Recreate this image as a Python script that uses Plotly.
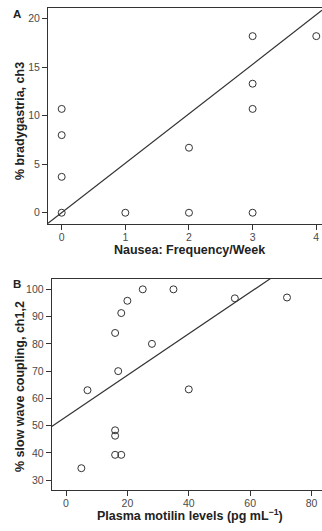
import plotly.graph_objects as go

# Panel A data
nausea_freq = [0, 0, 0, 0, 1, 2, 2, 3, 3, 3, 3, 4]
bradygastria = [0, 3.7, 8, 10.7, 0, 0, 6.7, 0, 10.7, 13.3, 18.2, 18.2]
fit_A = [0.0, 5.1]  # intercept, slope

# Panel B data
motilin = [5, 7, 16, 17, 18, 20, 25, 28, 35, 40, 55, 72, 16, 16, 16, 18]
coupling = [34.4, 63, 84, 70, 91.3, 95.8, 100, 80, 100, 63.3, 96.7, 97, 48.3, 46.3, 39.3, 39.3]
fit_B = [53.2, 0.762]

xrA = [-0.215, 4.09]
yrA = [-1.16, 21.1]
xrB = [-4.66, 83.4]
yrB = [26.4, 103.9]

W, H = 322, 531
ink = "#333333"
tickc = "#4a4a4a"
font_fam = "Liberation Sans, Arial, sans-serif"

fig = go.Figure()
marker = dict(symbol="circle-open", size=7, color=ink, line=dict(width=1, color=ink))

fig.add_trace(go.Scatter(x=nausea_freq, y=bradygastria, mode="markers", marker=marker,
                         xaxis="x", yaxis="y", showlegend=False, cliponaxis=False))
fig.add_trace(go.Scatter(x=xrA, y=[fit_A[0] + fit_A[1] * v for v in xrA], mode="lines",
                         line=dict(color=ink, width=1.2), xaxis="x", yaxis="y", showlegend=False))
fig.add_trace(go.Scatter(x=motilin, y=coupling, mode="markers", marker=marker,
                         xaxis="x2", yaxis="y2", showlegend=False, cliponaxis=False))
fig.add_trace(go.Scatter(x=xrB, y=[fit_B[0] + fit_B[1] * v for v in xrB], mode="lines",
                         line=dict(color=ink, width=1.2), xaxis="x2", yaxis="y2", showlegend=False))

ax_common = dict(showgrid=False, zeroline=False, showline=True, linecolor=ink, linewidth=1,
                 ticks="outside", ticklen=5, tickcolor=ink, tickwidth=1,
                 ticklabeloverflow="allow",
                 tickfont=dict(family=font_fam, size=10.5, color=tickc))

fig.update_layout(
    width=W, height=H,
    margin=dict(l=0, r=0, t=0, b=0),
    paper_bgcolor="white", plot_bgcolor="white",
    xaxis=dict(domain=[48 / W, 1], range=xrA, tickvals=[0, 1, 2, 3, 4], anchor="y",
               mirror=True, ticklabelstandoff=-2, **ax_common),
    yaxis=dict(domain=[1 - 224 / H, 1 - 8 / H], range=yrA, tickvals=[0, 5, 10, 15, 20], anchor="x",
               **ax_common),
    xaxis2=dict(domain=[51.7 / W, 1], range=xrB, tickvals=[0, 20, 40, 60, 80], anchor="y2",
                mirror=True, ticklabelstandoff=-2, **ax_common),
    yaxis2=dict(domain=[1 - 490 / H, 1 - 278.7 / H], range=yrB,
                tickvals=[30, 40, 50, 60, 70, 80, 90, 100], anchor="x2", **ax_common),
)

title_font = dict(family=font_fam, size=12.5, color="#222222")
ann = [
    dict(text="<b>A</b>", x=17 / W, y=1 - 13.5 / H, font=dict(family=font_fam, size=11.5, color="#222222")),
    dict(text="<b>B</b>", x=17 / W, y=1 - 283.5 / H, font=dict(family=font_fam, size=11.5, color="#222222")),
    dict(text="<b>Nausea: Frequency/Week</b>", x=189 / W, y=1 - 249.5 / H, font=title_font),
    dict(text="<b>% bradygastria, ch3</b>", x=20 / W, y=1 - 121 / H, textangle=-90, font=title_font),
    dict(text="<b>Plasma motilin levels (pg mL<sup>−1</sup>)</b>", x=190 / W, y=1 - 514.5 / H, font=title_font),
    dict(text="<b>% slow wave coupling, ch1,2</b>", x=20 / W, y=1 - 387 / H, textangle=-90, font=title_font),
]
for a in ann:
    fig.add_annotation(xref="paper", yref="paper", showarrow=False, xanchor="center",
                       yanchor="middle", **a)

fig.write_html("out.html", config={"displayModeBar": False},
               post_script="document.body.style.margin='0';")
